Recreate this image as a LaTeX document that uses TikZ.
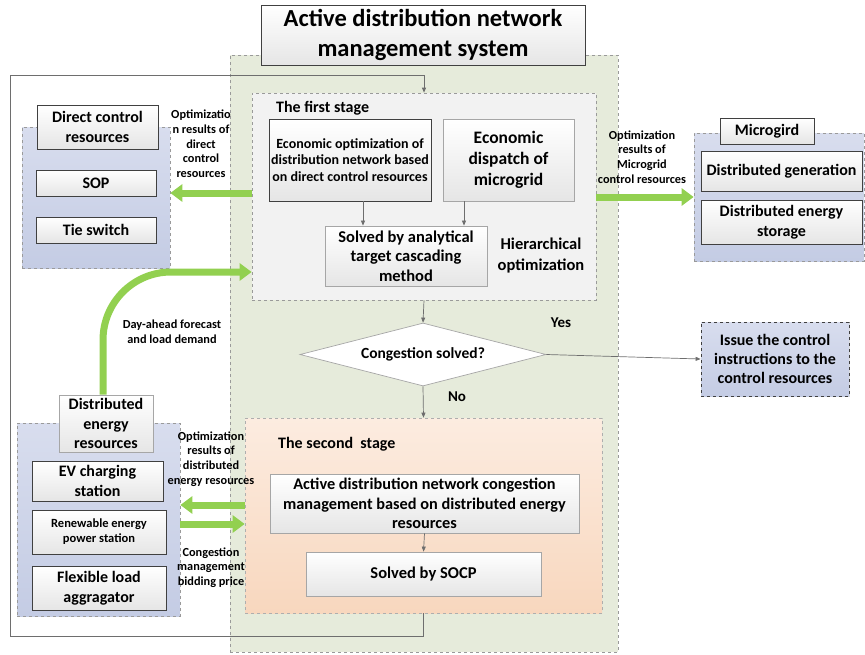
\documentclass[tikz,border=0pt]{standalone}
\usepackage{fontspec}
\setmainfont{Carlito}
\usetikzlibrary{arrows.meta,shapes.geometric,shadows}
\definecolor{grn}{HTML}{92D050}
\definecolor{darkb}{HTML}{404040}
\definecolor{lightb}{HTML}{A6A6A6}
\definecolor{dashb}{HTML}{9A9A9A}
\definecolor{sage}{RGB}{230,235,219}
\definecolor{stagegray}{RGB}{242,242,242}
\definecolor{bluetop}{RGB}{216,221,238}
\definecolor{bluebot}{RGB}{196,204,228}
\definecolor{peachtop}{RGB}{252,236,224}
\definecolor{peachbot}{RGB}{248,215,190}
\definecolor{linegray}{HTML}{6E6E6E}
\begin{document}
\begin{tikzpicture}[x=1pt,y=-1pt,
  fs/.style n args={2}{font=\fontsize{#1}{#2}\selectfont\bfseries},
  box/.style={draw=darkb, line width=0.8pt, top color=white, bottom color=black!10, align=center, inner sep=0pt, text=black,
              drop shadow={shadow xshift=1.2pt, shadow yshift=-1.2pt, opacity=0.25}},
  lbox/.style={box, draw=lightb},
  group/.style={draw=dashb, dashed, line width=0.7pt, top color=bluetop, bottom color=bluebot, inner sep=0pt},
  lbl/.style={align=center, inner sep=0pt, fs={12.3}{14.7}},
  thin/.style={draw=linegray, line width=0.7pt, -{Triangle[width=4pt,length=5pt]}},
  fat/.style={draw=grn, line width=7pt, -{Triangle[width=17pt,length=12pt]}},
]
\useasboundingbox (0,0) rectangle (865,654);

% main green container
\node[draw=dashb, dashed, line width=0.7pt, fill=sage, minimum width=388pt, minimum height=597pt, inner sep=0pt] (sys) at (424,353.5) {};

% title
\node[box, fs={24.5}{29.5}, minimum width=324pt, minimum height=60pt] (title) at (423,35) {Active distribution network\\management system};

% first stage
\node[draw=dashb, dashed, line width=0.7pt, fill=stagegray, minimum width=344pt, minimum height=207pt, inner sep=0pt] (st1) at (424,196.5) {};
\node[fs={16}{19}, anchor=west, inner sep=0pt] (st1t) at (276,108) {The first stage};
\node[box, fs={14}{16.2}, minimum width=162pt, minimum height=82pt] (eco) at (350,160) {Economic optimization of\\distribution network based\\on direct control resources};
\node[lbox, fs={17.5}{21}, minimum width=131pt, minimum height=82pt] (disp) at (508.5,160) {Economic\\dispatch of\\microgrid};
\node[lbox, fs={16.5}{19.5}, minimum width=162pt, minimum height=60pt] (atc) at (406,256) {Solved by analytical\\target cascading\\method};
\node[fs={16.5}{21}, align=center, inner sep=0pt] (hier) at (541,255.5) {Hierarchical\\optimization};

% decision
\node[draw=lightb, line width=0.7pt, fill=white, shape=diamond, aspect=3.9, minimum width=246pt, minimum height=63pt, inner sep=0pt, fs={15.5}{18}] (dec) at (423,354.5) {Congestion solved?};
\node[fs={15}{18}, inner sep=0pt] (yes) at (561,323) {Yes};
\node[fs={15}{18}, inner sep=0pt] (no) at (457,397) {No};

% issue box
\node[draw=darkb, dashed, line width=0.8pt, top color=bluetop, bottom color=bluebot, align=center, inner sep=0pt, minimum width=148pt, minimum height=74pt, fs={16}{18.6},
      drop shadow={shadow xshift=1.2pt, shadow yshift=-1.2pt, opacity=0.25}] (issue) at (775,359) {Issue the control\\instructions to the\\control resources};

% second stage
\node[draw=dashb!80, dashed, line width=0.7pt, top color=peachtop, bottom color=peachbot, minimum width=357pt, minimum height=195pt, inner sep=0pt] (st2) at (423.5,515.5) {};
\node[fs={16}{19}, anchor=west, inner sep=0pt] (st2t) at (278,444) {The second\ \ stage};
\node[lbox, fs={16.3}{19.5}, minimum width=309pt, minimum height=59pt] (adn) at (424.5,503.5) {Active distribution network congestion\\management based on distributed energy\\resources};
\node[lbox, fs={16.5}{19}, minimum width=235pt, minimum height=44pt] (socp) at (423.5,574) {Solved by SOCP};

% direct control resources
\node[group, minimum width=148pt, minimum height=141pt] (dgrp) at (96,197.5) {};
\node[box, fs={16}{20}, minimum width=121pt, minimum height=44pt] (dlab) at (97.5,127) {Direct control\\resources};
\node[box, fs={16}{19}, minimum width=120pt, minimum height=26pt] (sop) at (96,183) {SOP};
\node[box, fs={16}{19}, minimum width=120pt, minimum height=26pt] (tie) at (96,230) {Tie switch};
\node[lbl] (l1) at (201,144) {Optimizatio\\n results of\\direct\\control\\resources};

% distributed energy resources
\node[group, minimum width=163pt, minimum height=193pt] (dergrp) at (98.5,519.5) {};
\node[lbox, fs={16}{19.5}, minimum width=94pt, minimum height=57pt] (derlab) at (106,423.5) {Distributed\\energy\\resources};
\node[box, fs={16}{19.5}, minimum width=131pt, minimum height=40pt] (ev) at (97.5,481) {EV charging\\station};
\node[box, fs={12.5}{15}, minimum width=134pt, minimum height=44pt] (ren) at (99,532) {Renewable energy\\power station};
\node[box, fs={16}{19.5}, minimum width=134pt, minimum height=44pt] (flex) at (99,588) {Flexible load\\aggragator};
\node[lbl] (l2) at (211,459) {Optimization\\results of\\distributed\\energy resources};
\node[lbl] (l3) at (211,567.5) {Congestion\\management\\bidding price};
\node[lbl] (l4) at (172,332) {Day-ahead forecast\\and load demand};

% microgrid
\node[group, minimum width=170pt, minimum height=128pt] (mgrp) at (779,197) {};
\node[box, fs={16}{19}, minimum width=94pt, minimum height=26pt] (mlab) at (767,131) {Microgird};
\node[box, fs={16}{19}, minimum width=161pt, minimum height=40pt] (dg) at (781.5,171) {Distributed generation};
\node[box, fs={16}{19.5}, minimum width=161pt, minimum height=44pt] (des) at (781.5,222) {Distributed energy\\storage};
\node[lbl] (l5) at (642,157) {Optimization\\results of\\Microgrid\\control resources};

% feedback loop
\coordinate (lb) at (10,636);
\coordinate (lt) at (10,75);
\draw[draw=linegray, line width=0.8pt, -{Triangle[width=4pt,length=5pt]}] (st2.south) -- (st2.south |- lb) -- (lb) -- (lt) -- (lt -| st1.north) -- (st1.north);

% thin arrows
\draw[thin] ([xshift=13pt]eco.south) -- ([xshift=13pt]eco.south |- atc.north);
\draw[thin] ([xshift=-44.5pt]disp.south) -- ([xshift=-44.5pt]disp.south |- atc.north);
\draw[thin] (st1.south) -- (dec.north);
\draw[thin] (dec.east) -- (issue.west);
\draw[thin] (dec.south) -- (st2.north);
\draw[thin] (adn.south) -- (socp.north);

% green arrows
\draw[fat] (st1.west |- 0,193) -- (dgrp.east |- 0,193);
\draw[fat] (st1.east |- 0,197) -- (mgrp.west |- 0,197);
\draw[fat] (st2.west |- 0,505) -- (dergrp.east |- 0,505);
\draw[fat] (dergrp.east |- 0,524) -- (st2.west |- 0,524);
\draw[fat, rounded corners=68pt] ([xshift=-3pt]derlab.north) |- (st1.west |- 0,272);
\end{tikzpicture}
\end{document}
